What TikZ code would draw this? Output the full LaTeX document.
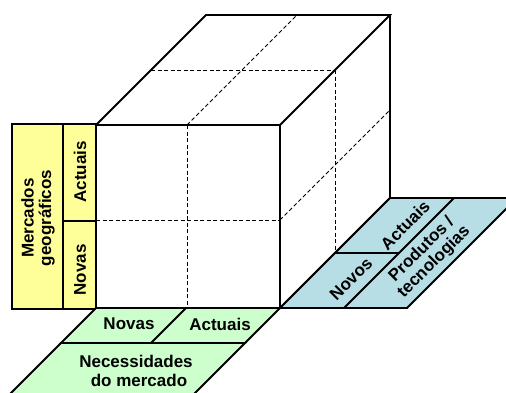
\documentclass[tikz,border=0pt]{standalone}
\usepackage{fontspec}
\setmainfont{Liberation Sans}
\definecolor{giallo}{RGB}{255,255,153}
\definecolor{verde}{RGB}{204,255,204}
\definecolor{azzurro}{RGB}{183,222,229}
\begin{document}
\begin{tikzpicture}[x=1pt, y=-1pt,
    spigolo/.style={line width=1.8pt, line join=miter},
    griglia/.style={line width=0.9pt, dash pattern=on 4pt off 2.5pt},
    etichetta/.style={font=\fontsize{17}{17.5}\selectfont\bfseries, align=center, inner sep=0pt}]
    \useasboundingbox (0,0) rectangle (506,392);
    \clip (0,0) rectangle (506,392);

    % Vertici del cubo
    \coordinate (ftl) at (96,125);
    \coordinate (ftr) at (280,125);
    \coordinate (fbr) at (280,308);
    \coordinate (fbl) at (96,308);
    \coordinate (btl) at (206,15);
    \coordinate (btr) at (390,15);
    \coordinate (bbr) at (390,198);

    % Griglia tratteggiata
    \draw[griglia] (187,125) -- (187,308);
    \draw[griglia] (96,220) -- (280,220);
    \draw[griglia] (151,70) -- (335,70);
    \draw[griglia] (187,125) -- (297,15);
    \draw[griglia] (335,70) -- (335,253);
    \draw[griglia] (280,220) -- (390,110);

    % Cubo
    \draw[spigolo] (ftl) rectangle (fbr);
    \draw[spigolo] (ftl) -- (btl) -- (btr) -- (ftr);
    \draw[spigolo] (btr) -- (bbr) -- (fbr);

    % Mercados geograficos
    \draw[spigolo, fill=giallo] (12,124) rectangle (96,309);
    \draw[spigolo] (63,124) -- (63,309);
    \draw[spigolo] (63,221) -- (96,221);
    \node[etichetta, rotate=90] (mercados) at (38,218) {Mercados\\geográficos};
    \node[etichetta, rotate=90] (mactuais) at (80,172) {Actuais};
    \node[etichetta, rotate=90] (mnovas) at (80,270) {Novas};

    % Necessidades do mercado
    \draw[spigolo, fill=verde] (96,308) -- (280,308) -- (245,343) -- (61,343) -- cycle;
    \draw[spigolo, fill=verde] (61,343) -- (245,343) -- (180,408) -- (-4,408) -- cycle;
    \draw[spigolo] (186,308) -- (151,343);
    \node[etichetta] (nnovas) at (129,324) {Novas};
    \node[etichetta] (nactuais) at (220,324) {Actuais};
    \node[etichetta] (necessidades) at (136,361) {Necessidades};
    \node[etichetta] (mercado) at (139,380) {do mercado};

    % Produtos / tecnologias
    \draw[spigolo, fill=azzurro] (280,308) -- (390,198) -- (517,198) -- (407,308) -- cycle;
    \draw[spigolo] (344,308) -- (454,198);
    \draw[spigolo] (335,253) -- (399,253);
    \node[etichetta, rotate=45] (pnovos) at (351,279) {Novos};
    \node[etichetta, rotate=45] (pactuais) at (405,225) {Actuais};
    \node[etichetta, rotate=45] (produtos) at (428,256) {Produtos /\\tecnologias};
\end{tikzpicture}
\end{document}
